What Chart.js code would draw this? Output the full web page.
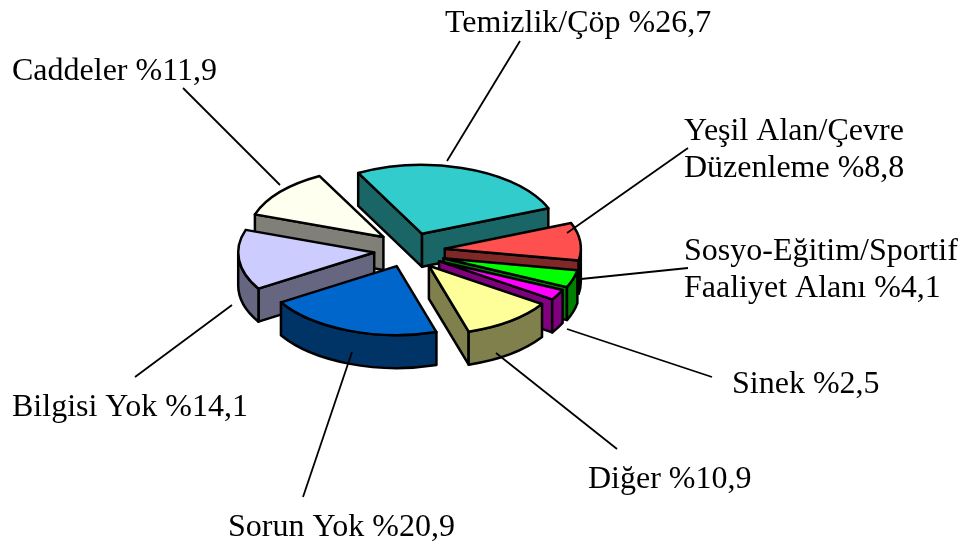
<!DOCTYPE html>
<html>
<head>
<meta charset="utf-8">
<script src="https://cdn.jsdelivr.net/npm/chart.js@4"></script>
<style>html,body{margin:0;padding:0;background:#fff}canvas{display:block}</style>
</head>
<body>
<canvas id="c" width="972" height="545"></canvas>
<script>
const categories = ['Temizlik/Çöp','Yeşil Alan/Çevre Düzenleme','Sosyo-Eğitim/Sportif Faaliyet Alanı','Sinek','Diğer','Sorun Yok','Bilgisi Yok','Caddeler'];
const values = [26.7, 8.8, 4.1, 2.5, 10.9, 20.9, 14.1, 11.9];
const topColors = ['#33CCCC','#FF5050','#00FF00','#FF00FF','#FFFF99','#0066CC','#CCCCFF','#FFFFF0'];
const wallColors = ['#1A6666','#802828','#008000','#800080','#80804D','#003366','#666680','#808078'];
const labelLines = [['Temizlik/Çöp %26,7'],['Yeşil Alan/Çevre','Düzenleme %8,8'],['Sosyo-Eğitim/Sportif','Faaliyet Alanı %4,1'],['Sinek %2,5'],['Diğer %10,9'],['Sorun Yok %20,9'],['Bilgisi Yok %14,1'],['Caddeler %11,9']];
const labelPos = [[445,32],[684,140],[684,260],[732,393],[588,488],[228,536],[12,416],[12,80]];
const leaders = [[447,161,520,41],[567,233,688,148],[581,279,688,268],[567,329,712,377],[496,353,617,449],[352,352,303,497],[232,305,135,377],[280,185,183,88]];
const paintOrder = [0,7,6,5,1,2,3,4];
const sliceNudge = [[0,0],[0,0],[0,2.5],[-1.5,2],[-2,1],[-1,-1],[-1,0],[0,-2]];
const squash = 0.507, depth = 33, explode = 35, lineW = 2.5;

const pie3d = {
  id: 'pie3d',
  beforeDatasetsDraw(chart) {
    const ctx = chart.ctx, arcs = chart.getDatasetMeta(0).data;
    paintOrder.forEach(i => {
      const arc = arcs[i], a = arc.startAngle, b = arc.endAngle, r = arc.outerRadius, m = (a + b) / 2;
      const cx = arc.x + Math.cos(m) * explode + sliceNudge[i][0], cy = arc.y + Math.sin(m) * explode * squash + sliceNudge[i][1];
      const pt = t => [cx + Math.cos(t) * r, cy + Math.sin(t) * r * squash];
      const strokeFill = (color) => {
        ctx.fillStyle = color; ctx.fill();
        ctx.strokeStyle = '#000'; ctx.lineWidth = lineW; ctx.lineJoin = 'round'; ctx.stroke();
      };
      const quad = (t) => {
        const p = pt(t);
        ctx.beginPath(); ctx.moveTo(cx, cy); ctx.lineTo(p[0], p[1]);
        ctx.lineTo(p[0], p[1] + depth); ctx.lineTo(cx, cy + depth); ctx.closePath();
        strokeFill(wallColors[i]);
      };
      if (Math.cos(a) < 0) quad(a);
      if (Math.cos(b) > 0) quad(b);
      for (const k of [-2, 0, 2]) {
        const s = Math.max(a, k * Math.PI), e = Math.min(b, (k + 1) * Math.PI);
        if (e > s) {
          ctx.beginPath();
          ctx.ellipse(cx, cy, r, r * squash, 0, s, e);
          ctx.ellipse(cx, cy + depth, r, r * squash, 0, e, s, true);
          ctx.closePath();
          strokeFill(wallColors[i]);
        }
      }
      ctx.save();
      ctx.translate(cx, cy); ctx.scale(1, squash); ctx.translate(-arc.x, -arc.y);
      arc.draw(ctx);
      ctx.restore();
      ctx.beginPath(); ctx.moveTo(cx, cy);
      ctx.ellipse(cx, cy, r, r * squash, 0, a, b);
      ctx.closePath();
      ctx.strokeStyle = '#000'; ctx.lineWidth = lineW; ctx.lineJoin = 'round'; ctx.stroke();
    });
    return false;
  },
  afterDraw(chart) {
    const ctx = chart.ctx;
    ctx.save();
    ctx.strokeStyle = '#000'; ctx.lineWidth = 1.8;
    leaders.forEach(l => { ctx.beginPath(); ctx.moveTo(l[0], l[1]); ctx.lineTo(l[2], l[3]); ctx.stroke(); });
    ctx.fillStyle = '#000'; ctx.font = '32px "Liberation Serif"'; ctx.textBaseline = 'alphabetic'; ctx.textAlign = 'left';
    labelLines.forEach((lines, i) => lines.forEach((t, j) => ctx.fillText(t, labelPos[i][0], labelPos[i][1] + j * 37)));
    ctx.restore();
  }
};

new Chart(document.getElementById('c'), {
  type: 'pie',
  data: { labels: categories, datasets: [{ data: values, backgroundColor: topColors, borderWidth: 0, hoverOffset: 0, offset: 0 }] },
  options: {
    responsive: false, animation: false, rotation: -28, radius: 136,
    layout: { padding: { left: 0, top: 0, right: 152, bottom: 44 } },
    events: [],
    plugins: { legend: { display: false }, tooltip: { enabled: false }, title: { display: false } }
  },
  plugins: [pie3d]
});
</script>
</body>
</html>
